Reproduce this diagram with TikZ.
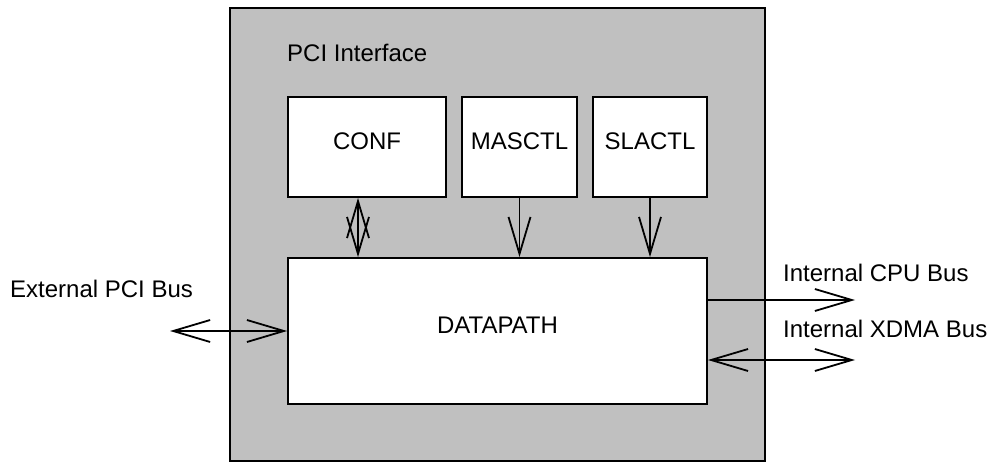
\documentclass[tikz,border=0pt]{standalone}
\usepackage{fontspec}
\setmainfont{Liberation Sans}
\usetikzlibrary{arrows.meta}
\begin{document}
\begin{tikzpicture}[x=1pt,y=-1pt,
  every node/.style={font=\fontsize{24}{28}\selectfont},
  outerbox/.style={draw, line width=1.8pt, fill={rgb,255:red,192;green,192;blue,192}, inner sep=0pt},
  blockbox/.style={draw, line width=1.8pt, fill=white, inner sep=0pt, text depth=12pt},
  txt/.style={inner sep=0pt, anchor=base west},
  conn/.style={line width=1.8pt},
  one/.style={conn, -{Straight Barb[length=37pt,width=22pt]}},
  both/.style={conn, {Straight Barb[length=37pt,width=22pt]}-{Straight Barb[length=37pt,width=22pt]}}
]
\useasboundingbox (0,0) rectangle (990,462);
\node[outerbox, minimum width=535pt, minimum height=453pt] (pci) at (497.5,234.5) {};
\node[txt] (pcilabel) at (287,62) {PCI Interface};
\node[blockbox, minimum width=158pt, minimum height=100pt] (conf) at (367,147) {CONF};
\node[blockbox, minimum width=115pt, minimum height=100pt] (mas) at (519.5,147) {MASCTL};
\node[blockbox, minimum width=114pt, minimum height=100pt] (sla) at (650,147) {SLACTL};
\node[blockbox, minimum width=419pt, minimum height=146pt] (dp) at (497.5,331) {DATAPATH};
\node[txt] (extlabel) at (10,298) {External PCI Bus};
\node[txt] (cpulabel) at (783,282) {Internal CPU Bus};
\node[txt] (xdmalabel) at (783,337) {Internal XDMA Bus};
\coordinate (ext) at (170,331);
\coordinate (cpu) at (855,300);
\coordinate (xdma) at (855,360);
\draw[both] ([xshift=-9pt]conf.south) -- ([xshift=-9pt]conf.south |- dp.north);
\draw[one] (mas.south) -- (mas.south |- dp.north);
\draw[one] (sla.south) -- (sla.south |- dp.north);
\draw[both] (ext) -- (ext -| dp.west);
\draw[one] (cpu -| dp.east) -- (cpu);
\draw[both] (xdma -| dp.east) -- (xdma);
\end{tikzpicture}
\end{document}
